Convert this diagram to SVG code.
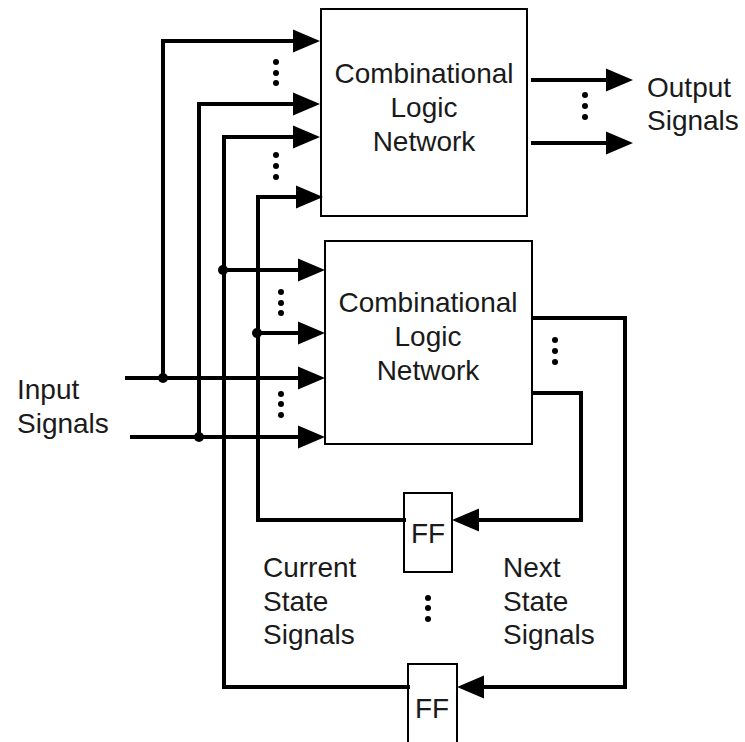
<svg xmlns="http://www.w3.org/2000/svg" width="745" height="742" viewBox="0 0 745 742">
<style>
.box{fill:#fff;stroke:#000;stroke-width:2}
.w{fill:none;stroke:#000;stroke-width:4;marker-end:url(#ah)}
.wn{fill:none;stroke:#000;stroke-width:4}
.t{font-family:"Liberation Sans",Arial,sans-serif;font-size:28px;fill:#1a1a1a}
.c{text-anchor:middle}
.j{fill:#000}
.d{fill:#000}
</style>
<defs>
<marker id="ah" markerUnits="userSpaceOnUse" markerWidth="28" markerHeight="24" viewBox="0 0 28 24" refX="0" refY="12" orient="auto">
<path d="M0,0.5 L27,12 L0,23.5 z" fill="#000"/>
</marker>
</defs>
<rect width="745" height="742" fill="#fff"/>

<g id="clnTop">
<rect class="box" x="321" y="9" width="206" height="207"/>
<text class="t c" x="424" y="83">Combinational</text>
<text class="t c" x="424" y="117">Logic</text>
<text class="t c" x="424" y="151">Network</text>
</g>

<g id="clnBottom">
<rect class="box" x="325" y="241" width="207" height="203"/>
<text class="t c" x="428" y="312">Combinational</text>
<text class="t c" x="428" y="346">Logic</text>
<text class="t c" x="428" y="380">Network</text>
</g>

<g id="ff1">
<rect class="box" x="404" y="493" width="48" height="79"/>
<text class="t c" x="428" y="543">FF</text>
</g>

<g id="ff2">
<rect class="box" x="408" y="664" width="49" height="90"/>
<text class="t c" x="432" y="718">FF</text>
</g>

<g id="labels">
<text class="t" x="647" y="97">Output</text>
<text class="t" x="647" y="130">Signals</text>
<text class="t" x="17" y="399">Input</text>
<text class="t" x="17" y="433">Signals</text>
<text class="t" x="263" y="577">Current</text>
<text class="t" x="263" y="611">State</text>
<text class="t" x="263" y="644">Signals</text>
<text class="t" x="503" y="577">Next</text>
<text class="t" x="503" y="611">State</text>
<text class="t" x="503" y="644">Signals</text>
</g>

<g id="connectors">
<path class="w" d="M163,378 V41 H293"/>
<path class="w" d="M199,437 V104 H293"/>
<path class="w" d="M224,687 V137 H293"/>
<path class="w" d="M258,520 V197 H296"/>
<path class="w" d="M224,270 H298"/>
<path class="w" d="M258,333 H298"/>
<path class="w" d="M125,378 H298"/>
<path class="w" d="M130,437 H298"/>
<path class="w" d="M531,80 H606"/>
<path class="w" d="M531,143 H606"/>
<path class="w" d="M532,393 H581 V520 H479"/>
<path class="w" d="M532,318 H625 V687 H484"/>
<path class="wn" d="M406,520 H256"/>
<path class="wn" d="M410,687 H222"/>
<circle class="j" cx="223" cy="270" r="5"/>
<circle class="j" cx="257" cy="333" r="5"/>
<circle class="j" cx="163" cy="378" r="5"/>
<circle class="j" cx="199" cy="437" r="5"/>
</g>

<g id="ellipses">
<circle class="d" cx="276" cy="62" r="3"/><circle class="d" cx="276" cy="73" r="3"/><circle class="d" cx="276" cy="83" r="3"/>
<circle class="d" cx="276" cy="155" r="3"/><circle class="d" cx="276" cy="166" r="3"/><circle class="d" cx="276" cy="177" r="3"/>
<circle class="d" cx="585" cy="95" r="3"/><circle class="d" cx="585" cy="106" r="3"/><circle class="d" cx="585" cy="117" r="3"/>
<circle class="d" cx="281" cy="292" r="3"/><circle class="d" cx="281" cy="303" r="3"/><circle class="d" cx="281" cy="313" r="3"/>
<circle class="d" cx="281" cy="394" r="3"/><circle class="d" cx="281" cy="404" r="3"/><circle class="d" cx="281" cy="415" r="3"/>
<circle class="d" cx="555" cy="340" r="3"/><circle class="d" cx="555" cy="351" r="3"/><circle class="d" cx="555" cy="362" r="3"/>
<circle class="d" cx="428" cy="598" r="3"/><circle class="d" cx="428" cy="608" r="3"/><circle class="d" cx="428" cy="619" r="3"/>
</g>
</svg>
